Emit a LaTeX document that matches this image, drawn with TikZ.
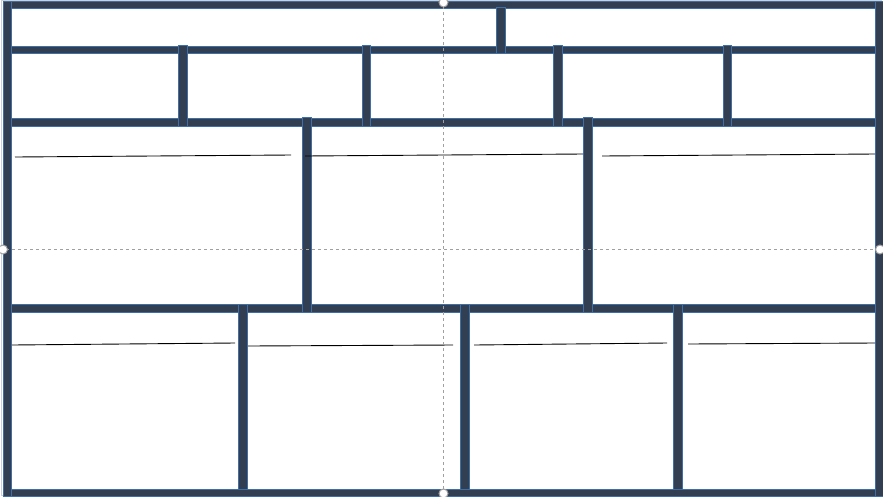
\documentclass[tikz,border=0pt]{standalone}
\definecolor{barfill}{RGB}{50,62,82}
\definecolor{baredge}{RGB}{62,112,165}
\definecolor{guidegray}{RGB}{160,160,160}

\begin{document}
\begin{tikzpicture}[x=1pt,y=-1pt,
  bar/.style={fill=barfill,draw=baredge,line width=0.8pt},
  rulerline/.style={black,line width=0.9pt},
  guide/.style={guidegray,line width=0.6pt,dash pattern=on 3pt off 3pt},
  handle/.style={circle,fill=white,draw=guidegray,line width=1pt,inner sep=0pt,minimum size=9pt}]

  \useasboundingbox (0,0) rectangle (883,496);
  \fill[white] (0,0) rectangle (883,496);

  % selection frame
  \draw[guidegray!50,line width=1.2pt] (1.5,0.6) rectangle (881.5,495.4);

  % horizontal bars
  \foreach \ya/\yb in {1/8,46/53,118/126,304/312,489/496}
    \draw[bar] (3,\ya) rectangle (883,\yb);

  % outer sides
  \draw[bar] (3,1) rectangle (11,496);
  \draw[bar] (875,1) rectangle (883,496);

  % verticals, row by row
  \draw[bar] (496,7) rectangle (505,53);
  \foreach \xa/\xb in {178/187,362/370,553/562,723/731}
    \draw[bar] (\xa,45) rectangle (\xb,126);
  \foreach \xa/\xb in {302/311,583/592}
    \draw[bar] (\xa,117) rectangle (\xb,312);
  \foreach \xa/\xb in {238/247,460/469,673/682}
    \draw[bar] (\xa,304) rectangle (\xb,489);

  % heading rules in the panels
  \draw[rulerline] (15,157) -- (291,155);
  \draw[rulerline] (305,156) -- (583,154);
  \draw[rulerline] (602,156) -- (875,154);
  \draw[rulerline] (12,345) -- (235,343);
  \draw[rulerline] (248,346) -- (453,345);
  \draw[rulerline] (474,345) -- (667,343);
  \draw[rulerline] (688,344) -- (875,343);

  % centre guides
  \draw[guide] (443.5,0) -- (443.5,496);
  \draw[guide] (0,249.5) -- (883,249.5);

  % handles
  \node[handle] (htop) at (443.5,2.5) {};
  \node[handle] (hleft) at (3,249.5) {};
  \node[handle] (hright) at (880,249.5) {};
  \node[handle] (hbottom) at (443.5,493.5) {};
\end{tikzpicture}
\end{document}
